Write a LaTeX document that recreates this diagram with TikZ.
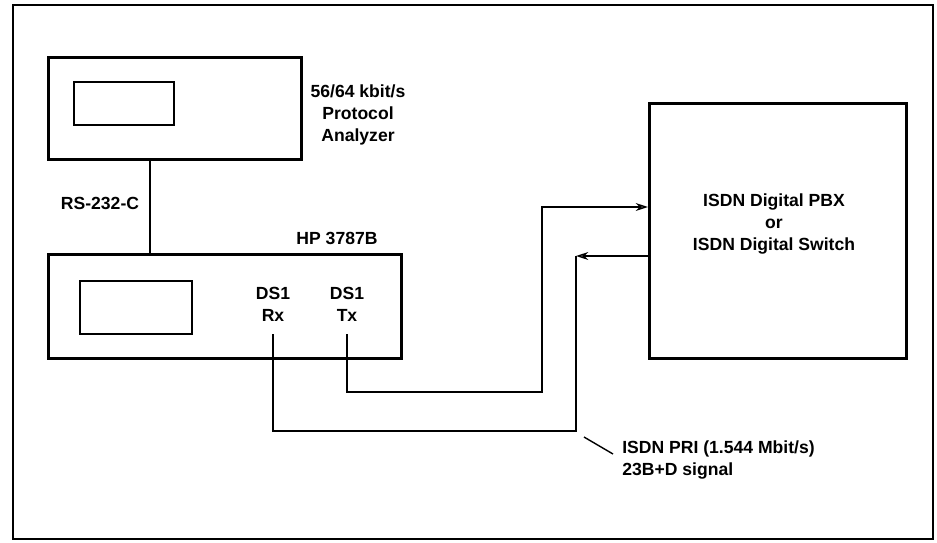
\documentclass[tikz,border=0pt]{standalone}
\usepackage{fontspec}
\setmainfont{Liberation Sans}
\usetikzlibrary{arrows.meta,positioning,calc}

\begin{document}
\begin{tikzpicture}[x=0.02cm, y=-0.02cm,
      unit/.style={draw, line width=1.5pt, anchor=north west, inner sep=0pt},
      screen/.style={draw, line width=1.3pt, anchor=north west, inner sep=0pt},
      lbl/.style={font=\fontsize{10}{12.5}\selectfont\bfseries, align=center, inner sep=0pt},
      link/.style={line width=0.8pt},
      arr/.style={-{Stealth[open, length=7pt, width=4.5pt]}}
    ]
    \useasboundingbox (0,0) rectangle (937,542);
    \draw[line width=1.2pt] (13,5) rectangle (933,539);

    % protocol analyzer
    \node[unit, minimum width=5.06cm, minimum height=2.04cm] (ana) at (47,56) {};
    \node[screen, minimum width=2.0cm, minimum height=0.86cm] (anascr) at (73,81) {};
    \node[lbl] (analbl) at (358,115) {56/64 kbit/s\\Protocol\\Analyzer};

    % HP 3787B
    \node[unit, minimum width=7.06cm, minimum height=2.08cm] (hp) at (47,253) {};
    \node[screen, minimum width=2.24cm, minimum height=1.06cm] (hpscr) at (79,280) {};
    \node[lbl] (hplbl) at (337,238) {HP 3787B};
    \node[lbl] (rx) at (273,304) {DS1\\Rx};
    \node[lbl] (tx) at (347,304) {DS1\\Tx};

    % switch
    \node[unit, minimum width=5.14cm, minimum height=5.10cm] (pbx) at (648,102) {};
    \node[lbl] (pbxlbl) at (774,224) {ISDN Digital PBX\\or\\ISDN Digital Switch};

    \node[lbl] (rslbl) at (100,203) {RS-232-C};
    \node[lbl, anchor=west, align=left] (pri) at (622,460) {ISDN PRI (1.544 Mbit/s)\\23B+D signal};

    \coordinate (rsx) at (150,0);
    \coordinate (rxend) at (273,334);
    \coordinate (txend) at (347,334);
    \coordinate (rxc) at (576,256);
    \coordinate (txc) at (542,207);
    \coordinate (lead) at (584,437);

    \draw[link] (ana.south -| rsx) -- (hp.north -| rsx);
    \draw[link] (rxend) -- ++(0,97) -| (rxc);
    \draw[link, arr] (pbx.west |- rxc) -- (rxc);
    \draw[link, arr] (txend) -- ++(0,58) -| (txc) -- (pbx.west |- txc);
    \draw[link] (lead) -- ([shift={(-9,-6)}]pri.west);
  \end{tikzpicture}
\end{document}
